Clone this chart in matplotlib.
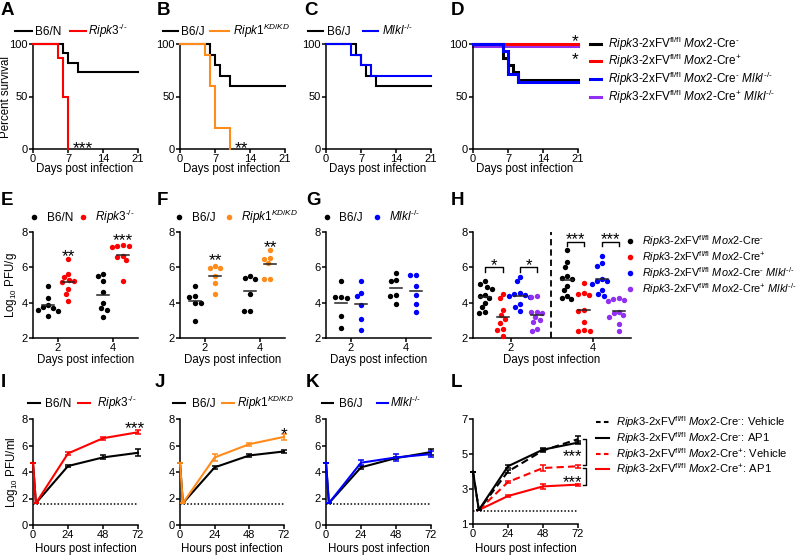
import numpy as np
import matplotlib
matplotlib.use('Agg')
import matplotlib.pyplot as plt
from matplotlib.lines import Line2D
from matplotlib.transforms import offset_copy

plt.rcParams.update({
    'font.family': ['Liberation Sans', 'DejaVu Sans'],
    'mathtext.fontset': 'custom',
    'mathtext.rm': 'Liberation Sans',
    'mathtext.it': 'Liberation Sans:italic',
    'mathtext.bf': 'Liberation Sans:bold',
    'mathtext.fallback': 'cm',
    'axes.linewidth': 1.1,
})

# ---------------- colours ----------------
BLACK = '#000000'
RED = '#FF0000'
ORANGE = '#FF8C1A'
BLUE = '#0000FF'
PURPLE = '#9130F2'

# ---------------- labels ----------------
HY = '\u2010'
KO = '^{' + HY + '/' + HY + '}'
L_B6N = 'B6/N'
L_B6J = 'B6/J'
L_RIPK3 = r'$\mathit{Ripk3}' + KO + '$'
L_RIPK1 = r'$\mathit{Ripk1}^{\mathit{KD/KD}}$'
L_MLKL = r'$\mathit{Mlkl}' + KO + '$'
BASE = r'$\mathit{Ripk3}$-2xFV$^{\mathrm{fl/fl}}$ $\mathit{Mox2}$-Cre'
NEG = '$^{' + HY + '}$'
POS = r'$^{+}$'
L_CRENEG = BASE + NEG
L_CREPOS = BASE + POS
L_CRENEG_MLKL = BASE + NEG + r' $\mathit{Mlkl}' + KO + '$'
L_CREPOS_MLKL = BASE + POS + r' $\mathit{Mlkl}' + KO + '$'
L_NEG_VEH = BASE + NEG + ': Vehicle'
L_NEG_AP1 = BASE + NEG + ': AP1'
L_POS_VEH = BASE + POS + ': Vehicle'
L_POS_AP1 = BASE + POS + ': AP1'

# ---------------- survival data (A-D) ----------------
surv_ticks = [0, 7, 14, 21]
A_b6n_days = [0, 6, 7, 9, 21]
A_b6n_surv = [100, 91, 82, 73, 73]
A_ko_days = [0, 5, 6, 7]
A_ko_surv = [100, 87, 50, 0]

B_b6j_days = [0, 6, 7, 8, 10, 21]
B_b6j_surv = [100, 90, 80, 70, 60, 60]
B_kd_days = [0, 5, 6, 7, 10]
B_kd_surv = [100, 90, 60, 20, 0]

C_b6j_days = [0, 6, 7, 8, 10, 21]
C_b6j_surv = [100, 90, 80, 70, 60, 60]
C_mlkl_days = [0, 5, 7, 9, 21]
C_mlkl_surv = [100, 90, 80, 70, 70]

D_creneg_days = [0, 6, 7, 8, 9, 21]
D_creneg_surv = [100, 87, 80, 73, 66, 66]
D_crepos_days = [0, 21]
D_crepos_surv = [100, 100]
D_creneg_mlkl_days = [0, 6, 7, 9, 21]
D_creneg_mlkl_surv = [100, 93, 71, 64, 64]
D_crepos_mlkl_days = [0, 21]
D_crepos_mlkl_surv = [98.5, 98.5]

# ---------------- tissue titres (E-H), log10 PFU/g ----------------
E_b6n_d2 = [4.95, 4.25, 3.85, 3.75, 3.7, 3.6, 3.55, 3.25]
E_ko_d2 = [6.5, 5.65, 5.45, 5.3, 5.2, 5.15, 4.8, 4.5, 4.1]
E_b6n_d4 = [5.6, 5.5, 5.25, 4.6, 4.0, 3.7, 3.6, 3.2]
E_ko_d4 = [7.25, 7.2, 7.2, 7.15, 6.65, 6.6, 6.4, 5.2]

F_b6j_d2 = [4.95, 4.35, 4.3, 4.0, 4.0, 2.95]
F_kd_d2 = [6.05, 5.95, 5.95, 5.5, 5.1, 4.5]
F_b6j_d4 = [5.5, 5.4, 5.35, 4.5, 3.55, 3.55]
F_kd_d4 = [7.0, 6.55, 6.5, 6.25, 5.35, 5.35]

G_b6j_d2 = [5.25, 4.3, 4.3, 4.25, 3.25, 2.55]
G_mlkl_d2 = [5.2, 4.55, 4.35, 3.85, 3.1, 2.45]
G_b6j_d4 = [5.7, 5.3, 5.2, 4.45, 4.4, 3.9]
G_mlkl_d4 = [5.55, 5.55, 4.95, 4.45, 3.95, 3.45]

H_creneg_d2 = [5.2, 5.05, 4.9, 4.8, 4.45, 4.35, 4.25, 4.0, 3.75, 3.45, 3.4]
H_crepos_d2 = [4.5, 4.25, 3.6, 3.3, 3.05, 2.85, 2.5, 2.45, 2.1]
H_creneg_mlkl_d2 = [5.45, 5.2, 4.55, 4.5, 4.45, 4.4, 4.3, 3.9, 3.75, 3.55]
H_crepos_mlkl_d2 = [4.35, 4.3, 3.5, 3.45, 3.4, 3.2, 3.0, 2.9, 2.5, 2.4]
H_creneg_d4 = [7.0, 6.3, 6.0, 5.5, 5.4, 5.35, 4.95, 4.7, 4.4, 4.25, 4.2]
H_crepos_d4 = [5.1, 4.55, 4.5, 4.45, 3.6, 3.55, 2.9, 2.45, 2.4, 2.4]
H_creneg_mlkl_d4 = [6.65, 6.25, 6.1, 5.35, 5.25, 5.2, 5.05, 4.7, 4.5, 4.4]
H_crepos_mlkl_d4 = [4.25, 4.2, 4.15, 4.1, 3.5, 3.4, 3.3, 3.2, 2.8, 2.4]

# ---------------- growth curves (I-L), log10 PFU/ml ----------------
hours_ticks = [0, 24, 48, 72]
IJK_hours = [0, 2, 24, 48, 72]
IJK_lod = 1.6
I_b6n = [4.7, 1.65, 4.45, 5.1, 5.45]
I_b6n_err = [0, 0, 0.1, 0.15, 0.25]
I_ko = [4.7, 1.65, 5.4, 6.55, 7.0]
I_ko_err = [0, 0, 0.12, 0.12, 0.15]
J_b6j = [4.7, 1.65, 4.35, 5.25, 5.55]
J_b6j_err = [0, 0, 0.1, 0.1, 0.1]
J_kd = [4.7, 1.65, 5.1, 6.1, 6.65]
J_kd_err = [0, 0, 0.25, 0.1, 0.2]
K_b6j = [4.7, 1.65, 4.35, 5.05, 5.5]
K_b6j_err = [0, 0, 0.1, 0.1, 0.25]
K_mlkl = [4.7, 1.65, 4.7, 5.1, 5.35]
K_mlkl_err = [0, 0, 0.2, 0.25, 0.2]

L_hours = [0, 4, 24, 48, 72]
L_lod = 1.75
L_neg_veh = [4.0, 1.8, 4.0, 5.2, 5.85]
L_neg_veh_err = [0, 0, 0.1, 0.1, 0.2]
L_neg_ap1 = [4.0, 1.8, 4.3, 5.25, 5.65]
L_neg_ap1_err = [0, 0, 0.1, 0.1, 0.1]
L_pos_veh = [4.0, 1.8, 3.4, 4.2, 4.3]
L_pos_veh_err = [0, 0, 0.07, 0.15, 0.1]
L_pos_ap1 = [4.0, 1.8, 2.6, 3.15, 3.25]
L_pos_ap1_err = [0, 0, 0.07, 0.15, 0.05]

# ================= figure =================
W, H = 800, 556
fig = plt.figure(figsize=(W / 100, H / 100), dpi=100)

FS_TICK = 8
FS_LAB = 8.3
FS_LEG = 8.5


def add_ax(x0, y0, x1, y1):
    ax = fig.add_axes([x0 / W, 1 - y1 / H, (x1 - x0) / W, (y1 - y0) / H])
    for s in ('top', 'right'):
        ax.spines[s].set_visible(False)
    ax.tick_params(direction='out', length=3, width=1.1, pad=0.8,
                   labelsize=FS_TICK, colors='black')
    ax.patch.set_alpha(0)
    return ax


def ftext(x, y, s, **kw):
    return fig.text(x / W, 1 - y / H, s, **kw)


def panel_letter(x, y, s):
    ftext(x, y, s, fontsize=13.5, fontweight='bold', va='baseline', ha='left')


def stars(ax, x, y, s, fs=12.5):
    tr = offset_copy(ax.transData, fig=fig, y=-0.57 * fs, units='points')
    ax.text(x, y, s, ha='center', va='baseline', fontsize=fs,
            transform=tr, clip_on=False)


def line_legend(entries, y, lw=1.5, fs=FS_LEG):
    # entries: (x_start, x_end, x_text, label, color, linestyle)
    for x0, x1, xt, lab, col, ls in entries:
        ln = Line2D([x0 / W, x1 / W], [1 - y / H] * 2, color=col, lw=lw,
                    linestyle=ls, transform=fig.transFigure)
        if ls == '--':
            ln.set_dashes((2.2, 1.6))
        fig.add_artist(ln)
        ftext(xt, y + 4, lab, fontsize=fs, va='baseline', ha='left')


def dot_legend(entries, y, fs=FS_LEG):
    for xd, xt, lab, col in entries:
        fig.add_artist(Line2D([xd / W], [1 - y / H], marker='o', ms=4,
                              color=col, mew=0, transform=fig.transFigure))
        ftext(xt, y + 4, lab, fontsize=fs, va='baseline', ha='left')


def swarm(vals, ypu, d):
    vals = np.asarray(vals, float)
    ypx = vals * ypu
    order = np.argsort(-vals, kind='stable')
    xs = np.zeros(len(vals))
    placed = []
    for i in order:
        cands = [0.0]
        for j in placed:
            dy = ypx[i] - ypx[j]
            if abs(dy) < d:
                dx = np.sqrt(d * d - dy * dy)
                cands += [xs[j] + dx, xs[j] - dx]
        valid = [c for c in cands
                 if all((c - xs[j]) ** 2 + (ypx[i] - ypx[j]) ** 2 >= d * d - 1e-6
                        for j in placed)]
        xs[i] = min(valid, key=lambda c: (round(abs(c), 6), c))
        placed.append(i)
    return xs


# ---------------- Row 1: survival ----------------
def surv_axes(x0):
    ax = add_ax(x0, 44, x0 + 105, 149)
    ax.set_xlim(0, 21)
    ax.set_ylim(0, 100)
    ax.set_xticks(surv_ticks)
    ax.set_yticks([0, 50, 100])
    ftext(x0 + 52, 172, 'Days post infection', fontsize=FS_LAB,
          ha='center', va='baseline')
    return ax


def kmstep(ax, d, s, col, lw=1.5, z=2):
    ax.step(d, s, where='post', color=col, lw=lw, clip_on=False, zorder=z,
            solid_joinstyle='miter')


axA = surv_axes(33)
kmstep(axA, A_b6n_days, A_b6n_surv, BLACK)
kmstep(axA, A_ko_days, A_ko_surv, RED, z=3)
stars(axA, 9.9, 5.5, '***')
ftext(6.5, 97, 'Percent survival', fontsize=FS_LAB, rotation=90,
      ha='center', va='center')
line_legend([(15, 32, 35, L_B6N, BLACK, '-'), (70, 86, 88, L_RIPK3, RED, '-')], 31)
panel_letter(1, 15, 'A')

axB = surv_axes(180)
kmstep(axB, B_b6j_days, B_b6j_surv, BLACK)
kmstep(axB, B_kd_days, B_kd_surv, ORANGE, z=3)
stars(axB, 12.3, 5.5, '**')
line_legend([(163, 178, 181, L_B6J, BLACK, '-'), (210, 229, 233, L_RIPK1, ORANGE, '-')], 31)
panel_letter(157, 15, 'B')

axC = surv_axes(326)
kmstep(axC, C_b6j_days, C_b6j_surv, BLACK)
kmstep(axC, C_mlkl_days, C_mlkl_surv, BLUE, z=3)
line_legend([(308, 323, 327, L_B6J, BLACK, '-'), (363, 378, 382, L_MLKL, BLUE, '-')], 31)
panel_letter(304, 15, 'C')

axD = surv_axes(473)
kmstep(axD, D_crepos_mlkl_days, D_crepos_mlkl_surv, PURPLE, lw=2.2, z=2)
kmstep(axD, D_crepos_days, D_crepos_surv, RED, lw=2.2, z=3)
kmstep(axD, D_creneg_days, D_creneg_surv, BLACK, lw=2.2, z=4)
kmstep(axD, D_creneg_mlkl_days, D_creneg_mlkl_surv, BLUE, lw=2.2, z=5)
stars(axD, 20.5, 107, '*')
stars(axD, 20.5, 90.5, '*')
for lab, col, y in zip([L_CRENEG, L_CREPOS, L_CRENEG_MLKL, L_CREPOS_MLKL],
                       [BLACK, RED, BLUE, PURPLE], [44, 61, 79, 97]):
    line_legend([(590, 601, 608, lab, col, '-')], y, lw=2.2)
panel_letter(451, 15, 'D')

# ---------------- Row 2: tissue titres ----------------
YPU = 106 / 6.0
DOT_D = 5.6


def titre_axes(x0, width, ticks):
    ax = add_ax(x0, 232, x0 + width, 338)
    ax.set_xlim(0, width)
    ax.set_ylim(2, 8)
    ax.set_yticks([2, 4, 6, 8])
    ax.set_xticks(ticks)
    ax.set_xticklabels(['2', '4'])
    ftext(x0 + width / 2, 363, 'Days post infection', fontsize=FS_LAB,
          ha='center', va='baseline')
    return ax


def dots(ax, groups):
    for vals, xc, col in groups:
        offs = swarm(vals, YPU, DOT_D)
        ax.scatter(xc + offs, vals, s=15, color=col, linewidths=0,
                   zorder=3, clip_on=False)
        m = np.mean(vals)
        ax.plot([xc - 6, xc + 6], [m, m], color='#222222', lw=1.1, zorder=4)


axE = titre_axes(33, 105, [25, 80])
dots(axE, [(E_b6n_d2, 15, BLACK), (E_ko_d2, 35, RED),
           (E_b6n_d4, 70, BLACK), (E_ko_d4, 90, RED)])
stars(axE, 35, 6.92, '**')
stars(axE, 90, 7.83, '***')
ftext(11, 285, r'Log$_{10}$ PFU/g', fontsize=FS_LAB, rotation=90,
      ha='center', va='center')
dot_legend([(34, 47, L_B6N, BLACK), (83, 95, L_RIPK3, RED)], 217)
panel_letter(1, 205, 'E')

axF = titre_axes(180, 105, [25, 80])
dots(axF, [(F_b6j_d2, 15, BLACK), (F_kd_d2, 35, ORANGE),
           (F_b6j_d4, 70, BLACK), (F_kd_d4, 90, ORANGE)])
stars(axF, 35, 6.7, '**')
stars(axF, 90, 7.43, '**')
dot_legend([(179, 192, L_B6J, BLACK), (229, 241, L_RIPK1, ORANGE)], 217)
panel_letter(157, 205, 'F')

axG = titre_axes(326, 105, [25, 80])
dots(axG, [(G_b6j_d2, 15, BLACK), (G_mlkl_d2, 35, BLUE),
           (G_b6j_d4, 70, BLACK), (G_mlkl_d4, 90, BLUE)])
dot_legend([(327, 339, L_B6J, BLACK), (377, 389, L_MLKL, BLUE)], 217)
panel_letter(306, 205, 'G')

axH = titre_axes(473, 158, [38, 120])
h_cols = [BLACK, RED, BLUE, PURPLE]
dots(axH, [(H_creneg_d2, 12, BLACK), (H_crepos_d2, 30, RED),
           (H_creneg_mlkl_d2, 47, BLUE), (H_crepos_mlkl_d2, 64, PURPLE),
           (H_creneg_d4, 94, BLACK), (H_crepos_d4, 111, RED),
           (H_creneg_mlkl_d4, 129, BLUE), (H_crepos_mlkl_d4, 146, PURPLE)])
axH.plot([78, 78], [2, 8], color='black', lw=1.3, ls=(0, (3.5, 2.2)), zorder=1)
for xa, xb, yb, tick, s, ys in [(12, 30, 6.02, 5.75, '*', 6.4),
                                (47, 64, 6.02, 5.75, '*', 6.4),
                                (94, 111, 7.45, 7.2, '***', 7.85),
                                (129, 146, 7.45, 7.2, '***', 7.85)]:
    axH.plot([xa, xa, xb, xb], [tick, yb, yb, tick], color='black', lw=1.0,
             clip_on=False)
    stars(axH, (xa + xb) / 2, ys, s, fs=12)
for lab, col, y in zip([L_CRENEG, L_CREPOS, L_CRENEG_MLKL, L_CREPOS_MLKL],
                       h_cols, [241, 257, 273, 289]):
    dot_legend([(630, 642, lab, col)], y, fs=7.8)
panel_letter(451, 205, 'H')

# ---------------- Row 3: growth curves ----------------
def growth_axes(x0, x1, y0, y1, ylim, yticks):
    ax = add_ax(x0, y0, x1, y1)
    ax.set_xlim(0, 72)
    ax.set_ylim(*ylim)
    ax.set_xticks(hours_ticks)
    ax.set_yticks(yticks)
    ftext((x0 + x1) / 2, 552, 'Hours post infection', fontsize=FS_LAB,
          ha='center', va='baseline')
    return ax


def curve(ax, t, y, e, col, ls='-', z=2):
    ln = ax.errorbar(t, y, yerr=e, color=col, lw=1.5, ls=ls, elinewidth=1.1,
                     capsize=2.5, capthick=1.1, clip_on=False, zorder=z)
    if ls == '--':
        ln.lines[0].set_dashes((3.5, 2))
    for art in ln.lines[1] + ln.lines[2]:
        art.set_clip_on(False)
    return ln


def lod(ax, v):
    ax.plot([0, 72], [v, v], color='black', lw=1.1, ls=(0, (1, 1.3)), zorder=1)


axI = growth_axes(33, 138, 419, 525, (0, 8), [0, 2, 4, 6, 8])
lod(axI, IJK_lod)
curve(axI, IJK_hours, I_b6n, I_b6n_err, BLACK)
curve(axI, IJK_hours, I_ko, I_ko_err, RED, z=3)
stars(axI, 70, 7.7, '***')
ftext(12, 472, r'Log$_{10}$ PFU/ml', fontsize=FS_LAB, rotation=90,
      ha='center', va='center')
line_legend([(28, 40, 45, L_B6N, BLACK, '-'), (78, 90, 97, L_RIPK3, RED, '-')], 403)
panel_letter(1, 387, 'I')

axJ = growth_axes(180, 284, 419, 525, (0, 8), [0, 2, 4, 6, 8])
lod(axJ, IJK_lod)
curve(axJ, IJK_hours, J_b6j, J_b6j_err, BLACK)
curve(axJ, IJK_hours, J_kd, J_kd_err, ORANGE, z=3)
stars(axJ, 72, 7.25, '*')
line_legend([(173, 185, 192, L_B6J, BLACK, '-'), (222, 234, 237, L_RIPK1, ORANGE, '-')], 403)
panel_letter(155, 387, 'J')

axK = growth_axes(326, 431, 419, 525, (0, 8), [0, 2, 4, 6, 8])
lod(axK, IJK_lod)
curve(axK, IJK_hours, K_b6j, K_b6j_err, BLACK)
curve(axK, IJK_hours, K_mlkl, K_mlkl_err, BLUE, z=3)
line_legend([(322, 333, 339, L_B6J, BLACK, '-'), (377, 388, 390, L_MLKL, BLUE, '-')], 403)
panel_letter(306, 387, 'K')

axL = growth_axes(473, 578, 419, 524, (1, 7), [1, 3, 5, 7])
lod(axL, L_lod)
curve(axL, L_hours[1:], L_pos_ap1[1:], L_pos_ap1_err[1:], RED, '-', z=2)
curve(axL, L_hours[1:], L_pos_veh[1:], L_pos_veh_err[1:], RED, '--', z=3)
curve(axL, L_hours, L_neg_veh, L_neg_veh_err, BLACK, '--', z=4)
curve(axL, L_hours, L_neg_ap1, L_neg_ap1_err, BLACK, '-', z=5)
# significance brackets at the last time point
top1 = max(L_neg_veh[-1], L_neg_ap1[-1]) + 0.03
bot1 = L_pos_veh[-1] + 0.07
top2 = L_pos_veh[-1] - 0.1
bot2 = L_pos_ap1[-1] - 0.02
for yt, yb in [(top1, bot1), (top2, bot2)]:
    axL.plot([75.3, 77.5, 77.5, 75.3], [yt, yt, yb, yb], color='black',
             lw=1.0, clip_on=False)
stars(axL, 68.5, (top1 + bot1) / 2, '***', fs=12)
stars(axL, 68.5, (top2 + bot2) / 2 - 0.05, '***', fs=12)
for lab, col, ls, y in zip([L_NEG_VEH, L_NEG_AP1, L_POS_VEH, L_POS_AP1],
                           [BLACK, BLACK, RED, RED], ['--', '-', '--', '-'],
                           [422, 438, 454, 469]):
    line_legend([(596, 609, 616, lab, col, ls)], y, fs=8.1)
panel_letter(451, 387, 'L')

fig.savefig('out.png', dpi=100)
